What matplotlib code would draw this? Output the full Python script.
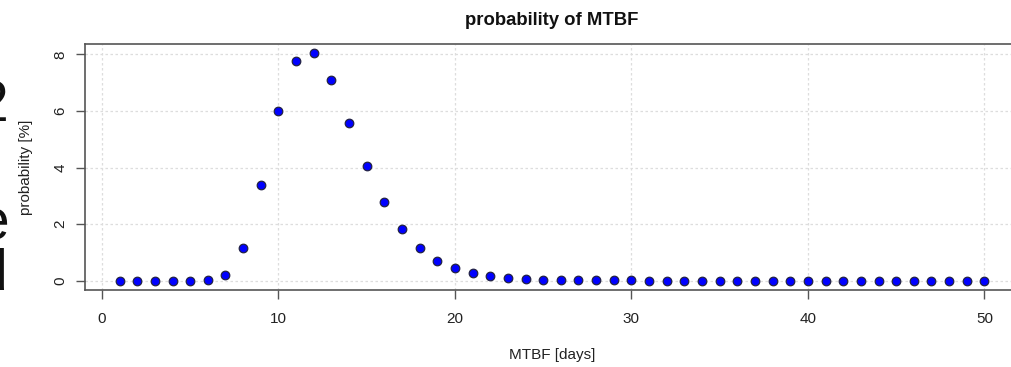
import matplotlib
matplotlib.use("Agg")
import matplotlib.pyplot as plt
import numpy as np

plt.rcParams['font.family'] = ['Liberation Sans', 'DejaVu Sans']

# MTBF in days and probability in percent
days = np.arange(1, 51)
prob = [0.0, 0.0, 0.0, 0.0, 0.0, 0.01, 0.19, 1.17, 3.37, 6.01,
        7.78, 8.04, 7.10, 5.58, 4.05, 2.77, 1.81, 1.14, 0.71, 0.44,
        0.26, 0.17, 0.10, 0.07, 0.04, 0.03, 0.02, 0.01, 0.01, 0.01,
        0.0, 0.0, 0.0, 0.0, 0.0, 0.0, 0.0, 0.0, 0.0, 0.0,
        0.0, 0.0, 0.0, 0.0, 0.0, 0.0, 0.0, 0.0, 0.0, 0.0]
xticks = [0, 10, 20, 30, 40, 50]
yticks = [0, 2, 4, 6, 8]

W, H = 1012, 367
fig = plt.figure(figsize=(W / 100, H / 100), dpi=100)
# plot box runs off the right edge, as in the cropped original
ax = fig.add_axes([85 / W, (H - 290) / H, (1019 - 85) / W, (290 - 44) / H])

edge = '#555555'
ax.grid(True, color='#dddddd', linestyle=(0, (2, 2)), linewidth=0.9)
ax.set_axisbelow(True)
ax.scatter(days, prob, s=38, facecolor='#0000ff', edgecolor='#222244',
           linewidth=0.9, zorder=3)

ax.set_xlim(-0.96, 51.96)
ax.set_ylim(-0.33, 8.37)
ax.set_xticks(xticks)
ax.set_yticks(yticks)
ax.set_yticklabels([str(v) for v in yticks], rotation=90, va='center')
ax.tick_params(axis='both', colors=edge, labelcolor='#222222',
               labelsize=11, length=6.5, width=1)
ax.tick_params(axis='x', pad=9)
ax.tick_params(axis='y', pad=6)
for s in ax.spines.values():
    s.set_color(edge)
    s.set_linewidth(1.2)

ax.set_xlabel('MTBF [days]', fontsize=11, color='#222222', va='center')
ax.set_ylabel('probability [%]', fontsize=11, color='#222222', va='center')
ax.xaxis.set_label_coords(0.5, (290 - 355) / 246)
ax.yaxis.set_label_coords((26 - 85) / 934, 0.5)
ax.set_title('probability of MTBF', fontsize=13.3, fontweight='bold',
             color='#111111', pad=14)

# cut-off letters of neighbouring text on the left edge
big = dict(fontsize=41, color='#111111', va='baseline', ha='right')
fig.text(8 / W, 1 - 121 / H, '2', **big)
fig.text(9 / W, 1 - 240 / H, 'e', **big)
fig.text(7 / W, 1 - 290 / H, 'd', **big)

fig.savefig('out.png', dpi=100)
